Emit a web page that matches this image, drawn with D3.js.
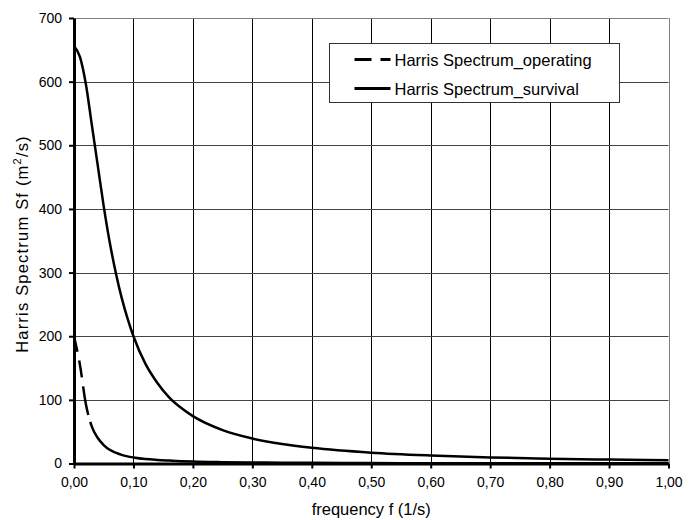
<!DOCTYPE html>
<html>
<head>
<meta charset="utf-8">
<script src="https://cdn.jsdelivr.net/npm/d3@7"></script>
<style>
  body { margin: 0; background: #fff; }
  text { font-family: "Liberation Sans", Arial, sans-serif; fill: #000; }
</style>
</head>
<body>
<div id="chart"></div>
<script>
// Values
var freq      = [0, 0.01, 0.02, 0.03, 0.04, 0.05, 0.06, 0.07, 0.08, 0.09, 0.10, 0.12, 0.14, 0.16, 0.18, 0.20, 0.25, 0.30, 0.35, 0.40, 0.50, 0.60, 0.70, 0.80, 0.90, 1.00];
var operating = [200, 155, 93, 58, 40, 29, 21.5, 17, 13.6, 11.2, 9.5, 7.0, 5.6, 4.6, 3.7, 3.0, 2.1, 1.6, 1.2, 1.0, 0.7, 0.5, 0.4, 0.3, 0.25, 0.2];
var survival  = [656, 639, 596, 532, 468, 404, 348, 301, 261, 228, 200, 157, 127, 104, 87.5, 74.4, 52.4, 39.2, 30.5, 24.6, 17.0, 12.6, 9.6, 7.6, 6.1, 5.0];
var xTicks = [0, 0.1, 0.2, 0.3, 0.4, 0.5, 0.6, 0.7, 0.8, 0.9, 1.0];
var yTicks = [0, 100, 200, 300, 400, 500, 600, 700];
var seriesNames = ["Harris Spectrum_operating", "Harris Spectrum_survival"];

var margin = { top: 18, right: 27.5, bottom: 56.5, left: 74 },
    width = 696 - margin.left - margin.right,
    height = 520 - margin.top - margin.bottom;

var svg = d3.select("#chart")
    .append("svg")
    .attr("width", 696)
    .attr("height", 520)
    .append("g")
    .attr("transform", "translate(" + margin.left + "," + margin.top + ")");

var x = d3.scaleLinear().domain([0, 1]).range([0, width]);
var y = d3.scaleLinear().domain([0, 700]).range([height, 0]);

// gridlines
svg.selectAll("vgrid").data(xTicks.slice(1)).enter().append("line")
    .attr("x1", function(d) { return Math.round(x(d)) + 0.5 })
    .attr("x2", function(d) { return Math.round(x(d)) + 0.5 })
    .attr("y1", 0).attr("y2", height)
    .attr("stroke", function(d) { return d === 1 ? "#808080" : "#000" })
    .attr("stroke-width", 1);

svg.selectAll("hgrid").data(yTicks.slice(1)).enter().append("line")
    .attr("x1", 0).attr("x2", width)
    .attr("y1", function(d) { return Math.round(y(d)) + 0.5 })
    .attr("y2", function(d) { return Math.round(y(d)) + 0.5 })
    .attr("stroke", function(d) { return d === 700 ? "#808080" : "#444" })
    .attr("stroke-width", 1);

// curves
var opData = freq.map(function(f, i) { return { x: f, y: operating[i] } });
var svData = freq.map(function(f, i) { return { x: f, y: survival[i] } });

var line = d3.line()
    .x(function(d) { return x(d.x) })
    .y(function(d) { return y(d.y) })
    .curve(d3.curveMonotoneX);

svg.append("path")
    .attr("d", line(svData))
    .attr("fill", "none")
    .attr("stroke", "#000")
    .attr("stroke-width", 2.5);

// Excel restarts the dash on each segment, so only the steep start shows gaps
svg.append("path")
    .attr("d", line(opData))
    .attr("fill", "none")
    .attr("stroke", "#000")
    .attr("stroke-width", 2.5)
    .attr("stroke-dasharray", "16,9,17,9,29,7,3000,0");

// axes
var yAxis = svg.append("g")
    .call(d3.axisLeft(y).tickValues(yTicks).tickSize(5).tickPadding(7).tickSizeOuter(0));
var xAxis = svg.append("g")
    .attr("transform", "translate(0," + height + ")")
    .call(d3.axisBottom(x).tickValues(xTicks).tickSize(5).tickPadding(9).tickSizeOuter(0)
        .tickFormat(function(d) { return d3.format(".2f")(d).replace(".", ",") }));

[yAxis, xAxis].forEach(function(a) {
    a.select(".domain").attr("stroke", "#000").attr("stroke-width", 3);
    a.selectAll(".tick line").attr("stroke", "#000").attr("stroke-width", 2);
    a.selectAll(".tick text").attr("font-size", 14).style("font-family", "'Liberation Sans', Arial, sans-serif");
});

// axis titles
svg.append("text")
    .attr("text-anchor", "middle")
    .attr("x", width / 2)
    .attr("y", height + 51)
    .attr("font-size", 16.5)
    .text("frequency f (1/s)");

var yt = svg.append("text")
    .attr("text-anchor", "middle")
    .attr("transform", "translate(" + (28 - margin.left) + "," + (244 - margin.top) + ") rotate(-90)")
    .attr("font-size", 16.5)
    .attr("letter-spacing", 1.2);
yt.append("tspan").text("Harris Spectrum Sf (m");
yt.append("tspan").attr("font-size", 11).attr("dy", -7).text("2");
yt.append("tspan").attr("dy", 7).text("/s)");

// legend
var lg = svg.append("g").attr("transform", "translate(" + (329.5 - margin.left) + "," + (43.5 - margin.top) + ")");
lg.append("rect")
    .attr("width", 290).attr("height", 59)
    .attr("fill", "#fff")
    .attr("stroke", "#333").attr("stroke-width", 1);

lg.selectAll("legendline").data(seriesNames).enter().append("line")
    .attr("x1", 25).attr("x2", 61)
    .attr("y1", function(d, i) { return 16 + 29 * i })
    .attr("y2", function(d, i) { return 16 + 29 * i })
    .attr("stroke", "#000")
    .attr("stroke-width", 3)
    .attr("stroke-dasharray", function(d, i) { return i === 0 ? "17,9" : null });

lg.selectAll("legendtext").data(seriesNames).enter().append("text")
    .attr("x", 65)
    .attr("y", function(d, i) { return 22 + 29 * i })
    .attr("font-size", 16.5)
    .text(function(d) { return d });
</script>
</body>
</html>
